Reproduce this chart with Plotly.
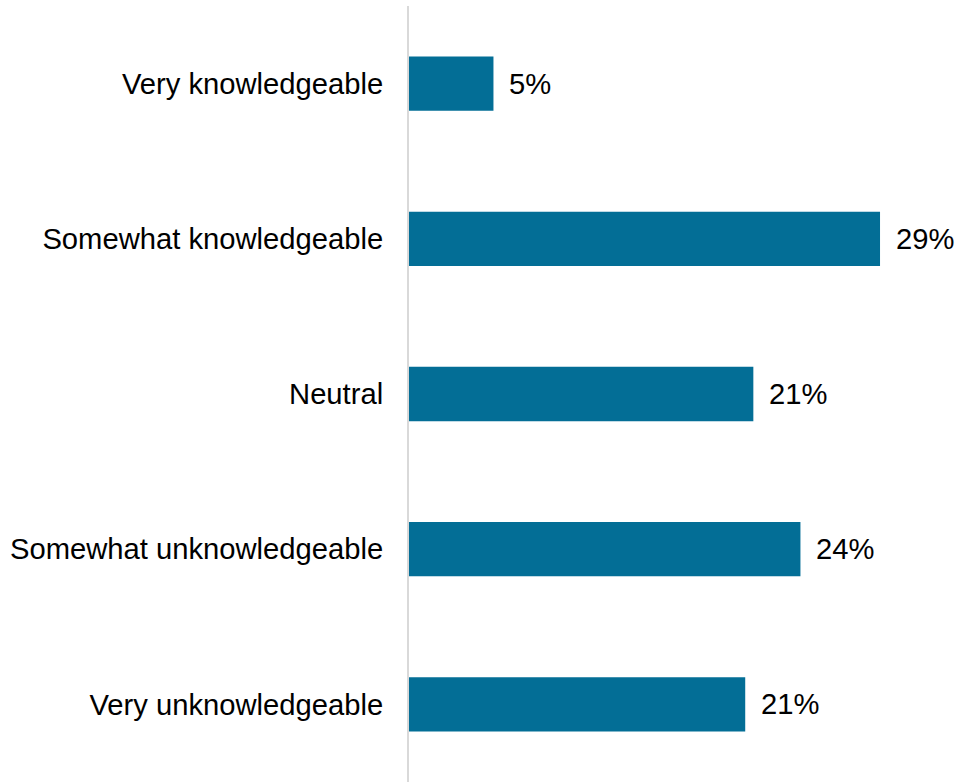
import plotly.graph_objects as go

categories = ["Very knowledgeable", "Somewhat knowledgeable", "Neutral",
              "Somewhat unknowledgeable", "Very unknowledgeable"]
values = [5.2, 29.0, 21.2, 24.1, 20.7]
labels = ["5%", "29%", "21%", "24%", "21%"]

FONT = "Liberation Sans, Arial, sans-serif"
FS = 29.2

fig = go.Figure(go.Bar(
    y=categories, x=values, orientation="h",
    marker=dict(color="#036E96", line=dict(width=0)),
    width=0.35,
    cliponaxis=False,
    hoverinfo="skip",
))

for c, v, t in zip(categories, values, labels):
    fig.add_annotation(x=v, y=c, text=t, showarrow=False, xanchor="left",
                       xshift=14, font=dict(family=FONT, size=FS, color="#000000"))

fig.update_layout(
    width=956, height=782,
    margin=dict(l=409, r=11, t=6, b=0),
    paper_bgcolor="white", plot_bgcolor="white",
    showlegend=False,
    font=dict(family=FONT, size=FS, color="#000000"),
)
fig.update_xaxes(range=[0, 33], visible=False, showgrid=False, zeroline=False)
fig.update_yaxes(
    autorange="reversed", showgrid=False, zeroline=False,
    showline=True, linecolor="#D9D9D9", linewidth=2,
    ticks="outside", ticklen=18, tickcolor="rgba(0,0,0,0)",
    tickfont=dict(family=FONT, size=FS, color="#000000"),
)

fig.write_html("out.html", config={"displayModeBar": False},
               post_script="document.body.style.margin='0';")
